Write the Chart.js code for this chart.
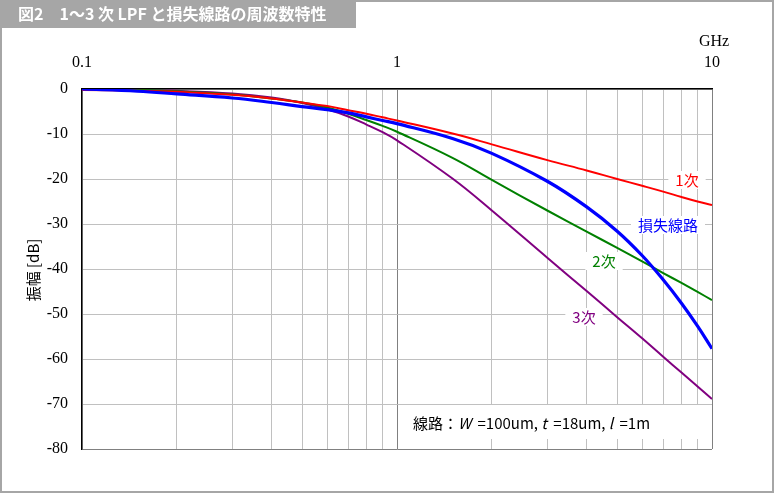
<!DOCTYPE html>
<html>
<head>
<meta charset="utf-8">
<script src="https://cdn.jsdelivr.net/npm/chart.js@4.4.1/dist/chart.umd.min.js"></script>
<style>
  body { margin: 0; background: #fff; }
  canvas { display: block; }
</style>
</head>
<body>
<canvas id="lpfChart" width="774" height="493"></canvas>
<script>
// frequency points [GHz] and gain [dB]
const freqs      = [0.1, 0.15, 0.2, 0.3, 0.4, 0.5, 0.6, 0.7, 0.8, 0.9, 1, 1.5, 2, 3, 4, 5, 6, 7, 8, 9, 10];
const order1     = [-0.2, -0.4, -0.6, -1.3, -2.1, -3.0, -3.8, -4.7, -5.5, -6.3, -7.0, -9.9, -12.3, -15.8, -18.1, -20.0, -21.5, -22.8, -24.0, -25.0, -25.8];
const order2     = [0, -0.2, -0.5, -1.2, -2.1, -3.0, -4.1, -5.5, -6.9, -8.2, -9.5, -15.3, -20.2, -27.0, -31.7, -35.3, -38.3, -40.9, -43.1, -45.1, -46.9];
const order3     = [0, -0.2, -0.4, -1.0, -1.9, -3.1, -4.5, -6.1, -7.9, -9.6, -11.4, -19.9, -27.0, -37.5, -44.9, -50.7, -55.4, -59.5, -63.0, -66.1, -68.9];
const lossLine   = [0, -0.5, -1.1, -2.0, -3.0, -3.9, -4.6, -5.3, -6.2, -7.0, -7.7, -11.0, -14.3, -20.5, -26.2, -31.6, -37.0, -42.4, -47.6, -52.7, -57.7];

const seriesNames = ['損失線路', '1次', '2次', '3次'];
const freqTicks = [0.1, 0.2, 0.3, 0.4, 0.5, 0.6, 0.7, 0.8, 0.9, 1, 2, 3, 4, 5, 6, 7, 8, 9, 10];
const labeledFreqs = [0.1, 1, 10];
const dbTicks = [0, -10, -20, -30, -40, -50, -60, -70, -80];

const jp = '"Noto Sans CJK JP", "Noto Sans", sans-serif';
const serif = '"Liberation Serif", "DejaVu Serif", serif';

function toPoints(vals) {
    return freqs.map((f, i) => ({ x: f, y: vals[i] }));
}

// series labels placed next to the curves (center x/y in pixels)
const curveLabels = [
    { text: '1次', color: '#ff0000', x: 687, y: 180 },
    { text: '損失線路', color: '#0000ff', x: 668, y: 225 },
    { text: '2次', color: '#008000', x: 604, y: 261 },
    { text: '3次', color: '#800080', x: 584, y: 317 },
];

const decorations = {
    id: 'decorations',
    beforeDraw(chart) {
        const c = chart.ctx;
        c.save();
        c.fillStyle = '#fff';
        c.fillRect(0, 0, chart.width, chart.height);
        // outer frame
        c.strokeStyle = '#a6a6a6';
        c.lineWidth = 2;
        c.strokeRect(1, 1, chart.width - 2, chart.height - 2);
        // title bar
        c.fillStyle = '#a6a6a6';
        c.fillRect(0, 0, 356, 28);
        c.fillStyle = '#fff';
        c.font = 'bold 16px ' + jp;
        c.textBaseline = 'middle';
        c.fillText('図2　1〜3 次 LPF と損失線路の周波数特性', 18, 14);
        c.restore();
    },
    beforeDatasetsDraw(chart) {
        const c = chart.ctx;
        c.save();
        c.fillStyle = '#fff';
        c.font = '15px ' + jp;
        curveLabels.forEach(l => {
            const w = c.measureText(l.text).width;
            c.fillRect(l.x - w / 2 - 7, l.y - 9, w + 14, 18);
        });
        // note box
        c.fillRect(406, 405, 300, 34);
        c.restore();
    },
    afterDatasetsDraw(chart) {
        const c = chart.ctx;
        c.save();
        c.textBaseline = 'middle';
        c.textAlign = 'center';
        c.font = '15px ' + jp;
        curveLabels.forEach(l => {
            c.fillStyle = l.color;
            c.fillText(l.text, l.x, l.y);
        });

        // note text with italic symbols
        const parts = [['線路：', false], ['W', true], [' =100um, ', false], ['t', true], [' =18um, ', false], ['l', true], [' =1m', false]];
        c.textAlign = 'left';
        c.fillStyle = '#000';
        let x = 413;
        parts.forEach(([txt, it]) => {
            c.font = (it ? 'italic ' : '') + '15px ' + jp;
            c.fillText(txt, x, 423);
            x += c.measureText(txt).width + (it ? 3 : 0);
        });

        // axis captions
        c.textAlign = 'center';
        c.font = '16px ' + serif;
        c.fillText('GHz', 714, 42);

        c.translate(33, 270);
        c.rotate(-Math.PI / 2);
        c.font = '15px ' + jp;
        c.fillText('振幅 [dB]', 0, 0);
        c.restore();
    },
};

const ctx = document.getElementById('lpfChart').getContext('2d');
const colors = ['#0000ff', '#ff0000', '#008000', '#800080'];
const widths = [3.2, 2, 2, 2];
const seriesData = [lossLine, order1, order2, order3];

new Chart(ctx, {
    type: 'line',
    data: {
        datasets: seriesData.map((vals, i) => ({
            label: seriesNames[i],
            data: toPoints(vals),
            borderColor: colors[i],
            borderWidth: widths[i],
            pointRadius: 0,
            fill: false,
            tension: 0.4,
        })),
    },
    options: {
        responsive: false,
        animation: false,
        layout: { padding: { left: 0, top: 0, right: 62, bottom: 44 } },
        plugins: {
            legend: { display: false },
            tooltip: { enabled: false },
        },
        scales: {
            x: {
                type: 'logarithmic',
                position: 'top',
                min: 0.1,
                max: 10,
                afterBuildTicks: s => { s.ticks = freqTicks.map(v => ({ value: v })); },
                afterFit: s => { s.height = 89; },
                ticks: {
                    autoSkip: false,
                    maxRotation: 0,
                    padding: 17,
                    color: '#000',
                    font: { family: serif, size: 16 },
                    callback: v => labeledFreqs.includes(v) ? String(v) : '',
                },
                grid: {
                    drawTicks: false,
                    color: c => (c.tick && (c.tick.value === 1 || c.tick.value === 10)) ? '#808080' : '#c0c0c0',
                },
                border: { color: '#000', width: 1.5 },
            },
            y: {
                min: -80,
                max: 0,
                afterBuildTicks: s => { s.ticks = dbTicks.map(v => ({ value: v })); },
                afterFit: s => { s.width = 82; },
                ticks: {
                    padding: 14,
                    color: '#000',
                    font: { family: serif, size: 16 },
                },
                grid: {
                    drawTicks: false,
                    color: c => (c.tick && c.tick.value === -80) ? '#808080' : '#c0c0c0',
                },
                border: { color: '#000', width: 1.5 },
            },
        },
    },
    plugins: [decorations],
});
</script>
</body>
</html>
